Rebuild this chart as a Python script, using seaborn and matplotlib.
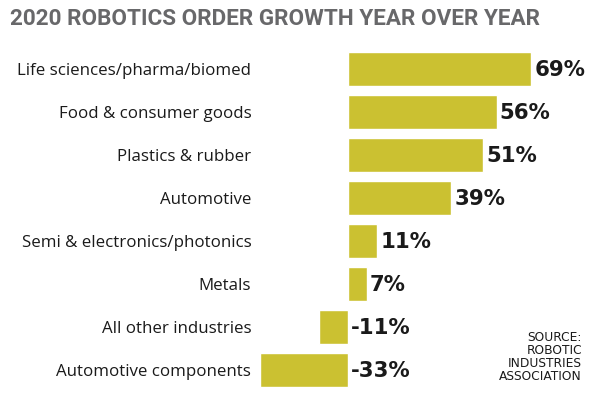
import matplotlib
matplotlib.use("Agg")
import matplotlib.pyplot as plt
import seaborn as sns
import pandas as pd

# data
industries = [
    "Life sciences/pharma/biomed",
    "Food & consumer goods",
    "Plastics & rubber",
    "Automotive",
    "Semi & electronics/photonics",
    "Metals",
    "All other industries",
    "Automotive components",
]
growth = [69, 56, 51, 39, 11, 7, -11, -33]

BAR_COLOR = "#CBC131"

sns.set_theme(style="white")
plt.rcParams["font.family"] = ["Open Sans", "DejaVu Sans"]

df = pd.DataFrame({"industry": industries, "growth": growth})

fig = plt.figure(figsize=(6, 4), dpi=100)
ax = fig.add_axes([0.434, 0.021, 0.451, 0.86])

sns.barplot(data=df, x="growth", y="industry", orient="h", color=BAR_COLOR,
            width=0.8, saturation=1, ax=ax)

ax.set_xlim(-33, 69)
ax.set_ylim(7.5, -0.5)
ax.set_xlabel("")
ax.set_ylabel("")
ax.set_xticks([])
sns.despine(ax=ax, left=True, bottom=True)
ax.tick_params(axis="y", length=0, pad=6.5, labelsize=12.2, labelcolor="#1a1a1a")

# value labels just right of the bar end (or of zero for negatives)
for i, v in enumerate(growth):
    xpos = max(v, 0) + 1.2
    ax.text(xpos, i + 0.03, f"{v}%", va="center", ha="left",
            fontsize=15.3, fontweight="bold", color="#1a1a1a",
            family="DejaVu Sans", clip_on=False)

fig.text(0.017, 0.938, "2020 ROBOTICS ORDER GROWTH YEAR OVER YEAR",
         fontsize=16.2, fontweight="bold", color="#68686a",
         family=["Roboto", "DejaVu Sans"], ha="left", va="baseline")

fig.text(0.97, 0.043, "SOURCE:\nROBOTIC\nINDUSTRIES\nASSOCIATION",
         ha="right", va="bottom", fontsize=8.8, color="#1a1a1a",
         family="DejaVu Sans", linespacing=1.0)

fig.savefig("out.png", dpi=100)
plt.close(fig)
